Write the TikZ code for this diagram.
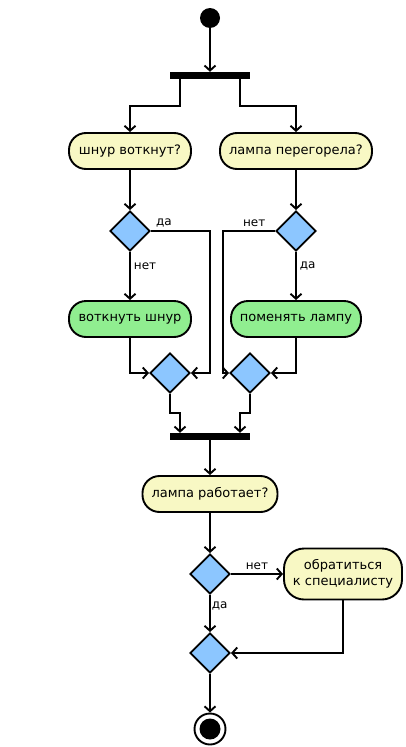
\documentclass[tikz,border=0pt]{standalone}
\usepackage{fontspec}
\setmainfont{DejaVu Sans}
\usetikzlibrary{arrows.meta,shapes.geometric}
\definecolor{askfill}{HTML}{F8F8C4}
\definecolor{dofill}{HTML}{90EE90}
\definecolor{branchfill}{HTML}{8CC6FF}
\tikzset{
  flow/.style = {line width=1.9pt, -{Straight Barb[length=5pt,width=11pt,line width=1.9pt]}},
  ask/.style = {draw, line width=1.9pt, fill=askfill, rounded corners=17pt, minimum height=36pt,
    inner sep=2pt, font=\fontsize{13}{16}\selectfont, align=center},
  act/.style = {ask, fill=dofill},
  branch/.style = {draw, diamond, line width=1.9pt, fill=branchfill, minimum size=40pt, inner sep=0pt, aspect=1},
  bar/.style = {fill=black, minimum width=80pt, minimum height=7pt, inner sep=0pt},
  lbl/.style = {font=\fontsize{12}{14}\selectfont, inner sep=3pt}
}
\begin{document}
\begin{tikzpicture}[x = 1pt, y = -1pt]
	\useasboundingbox (0,0) rectangle (405,747);
	\node (start) [circle, fill=black, minimum size=20pt, inner sep=0pt] at (210,18) {};
	\node (fork) [bar] at (210,75.5) {};
	\node (plug) [ask, minimum width=122pt] at (130,151) {шнур воткнут?};
	\node (bulb) [ask, minimum width=152pt] at (296,151) {лампа перегорела?};
	\node (q1) [branch] at (130,231) {};
	\node (q2) [branch] at (296,231) {};
	\node (fixplug) [act, minimum width=122pt] at (130,319) {воткнуть шнур};
	\node (fixbulb) [act, minimum width=130pt] at (296,319) {поменять лампу};
	\node (m1) [branch] at (170,373) {};
	\node (m2) [branch] at (250,373) {};
	\node (join) [bar] at (210,436.5) {};
	\node (works) [ask, minimum width=135pt] at (210,494) {лампа работает?};
	\node (q3) [branch] at (210,574) {};
	\node (expert) [ask, minimum width=118pt, minimum height=51pt, rounded corners=20pt] at (343,574) {обратиться\\к специалисту};
	\node (m3) [branch] at (210,653) {};
	\node (stop) [circle, draw, line width=1.9pt, minimum size=31pt, inner sep=0pt] at (210,729) {};
	\fill (stop) circle (10.5pt);
	% fork
	\draw[flow] (start) -- (fork);
	\draw[flow] ([xshift=-30pt]fork.south) -- ++(0,27) -| (plug);
	\draw[flow] ([xshift=30pt]fork.south) -- ++(0,27) -| (bulb);
	% left branch
	\draw[flow] (plug) -- (q1);
	\draw[flow] (q1) -- node[lbl, right, pos=.3] {нет} (fixplug);
	\draw[flow] (q1) -- node[lbl, above, pos=.22] {да} ++(80,0) |- (m1);
	\draw[flow] (fixplug) |- (m1);
	% right branch
	\draw[flow] (bulb) -- (q2);
	\draw[flow] (q2) -- node[lbl, right, pos=.3] {да} (fixbulb);
	\draw[flow] (q2) -- node[lbl, above, pos=.4] {нет} ++(-73,0) |- (m2);
	\draw[flow] (fixbulb) |- (m2);
	% join
	\draw[flow] (m1.south) -- ++(0,19) -| ([xshift=-30pt]join.north);
	\draw[flow] (m2.south) -- ++(0,19) -| ([xshift=30pt]join.north);
	\draw[flow] (join) -- (works);
	\draw[flow] (works) -- (q3);
	\draw[flow] (q3) -- node[lbl, above] {нет} (expert);
	\draw[flow] (q3) -- node[lbl, right, pos=.3, inner sep=1pt] {да} (m3);
	\draw[flow] (expert) |- (m3);
	\draw[flow] (m3) -- (stop);
\end{tikzpicture}
\end{document}
